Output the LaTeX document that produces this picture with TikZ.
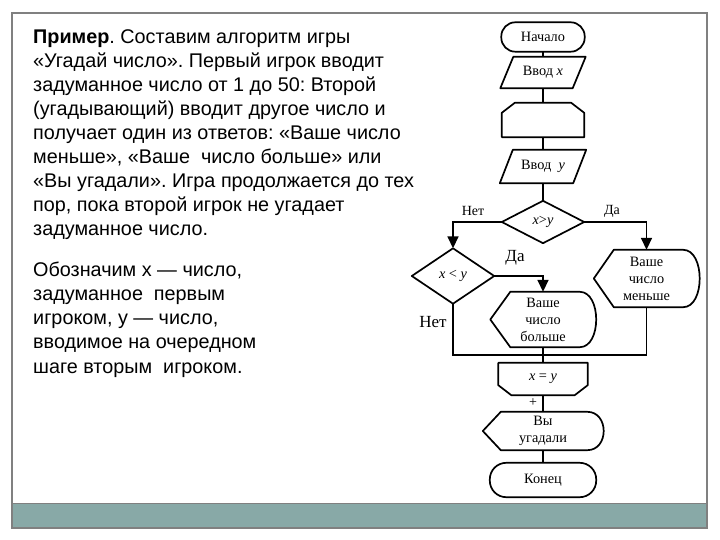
\documentclass[tikz,border=0pt]{standalone}
\usepackage{fontspec}
\setmainfont{Liberation Serif}
\newfontfamily\arialf{Liberation Sans}
\usetikzlibrary{arrows.meta}
\definecolor{band}{HTML}{88A9A7}
\definecolor{framec}{HTML}{808080}
\frenchspacing
\begin{document}
\begin{tikzpicture}[x=1pt,y=-1pt,
  blk/.style={inner sep=0pt, align=center, font=\fontsize{14.3}{17}\selectfont},
  ol/.style={line width=1.7pt, line join=round},
  cn/.style={line width=1.7pt},
  arr/.style={cn, -{Triangle[length=12pt,width=11pt]}},
  lbl/.style={inner sep=0pt, font=\fontsize{14}{16}\selectfont},
  lblbig/.style={inner sep=0pt, font=\fontsize{17}{19}\selectfont},
  txt/.style={inner sep=0pt, anchor=base west, font=\arialf\fontsize{19.8}{22}\selectfont}]
\useasboundingbox (0,0) rectangle (720,540);
% frame and band
\fill[band] (12,503) rectangle (707,528);
\draw[framec, line width=1.2pt] (12,13) rectangle (707,528);
\draw[framec, line width=1pt] (12,503) -- (707,503);
% left text
\foreach \t [count=\i] in {{\textbf{Пример}. Составим алгоритм игры},
  {«Угадай число». Первый игрок вводит},
  {задуманное число от 1 до 50: Второй},
  {(угадывающий) вводит другое число и},
  {получает один из ответов: «Ваше число},
  {меньше», «Ваше \ число больше» или},
  {«Вы угадали». Игра продолжается до тех},
  {пор, пока второй игрок не угадает},
  {задуманное число.}}
  \node[txt] (pa\i) at (33,{44+23.9*(\i-1)}) {\t};
\foreach \t [count=\i] in {{Обозначим x — число,},
  {задуманное \ первым},
  {игроком, y — число,},
  {вводимое на очередном},
  {шаге вторым \ игроком.}}
  \node[txt] (pb\i) at (33,{276+24.25*(\i-1)}) {\t};
% flowchart nodes
\node[blk, minimum width=83pt, minimum height=29pt] (start) at (543,37) {Начало};
\draw[ol, rounded corners=14pt] (start.north west) rectangle (start.south east);
\node[blk, minimum width=85pt, minimum height=31pt] (inx) at (543,72.5) {Ввод \textit{x}};
\draw[ol] (inx.south west) -- ([xshift=13pt]inx.north west) -- (inx.north east) -- ([xshift=-13pt]inx.south east) -- cycle;
\node[blk, minimum width=82pt, minimum height=34pt] (loop) at (543,120) {};
\draw[ol] ([yshift=-10pt]loop.north west) -- ([xshift=13pt]loop.north west) -- ([xshift=-13pt]loop.north east) -- ([yshift=-10pt]loop.north east) -- (loop.south east) -- (loop.south west) -- cycle;
\node[blk, minimum width=86pt, minimum height=33pt] (iny) at (543,166.5) {Ввод \ \textit{y}};
\draw[ol] (iny.south west) -- ([xshift=13pt]iny.north west) -- (iny.north east) -- ([xshift=-13pt]iny.south east) -- cycle;
\node[blk, minimum width=82pt, minimum height=42pt] (d1) at (543,222) {\textit{x}>\textit{y}};
\draw[ol] (d1.west) -- (d1.north) -- (d1.east) -- (d1.south) -- cycle;
\node[blk, minimum width=82pt, minimum height=55pt] (d2) at (453,276) {\textit{x} < \textit{y}};
\draw[ol] (d2.west) -- (d2.north) -- (d2.east) -- (d2.south) -- cycle;
\node[blk, minimum width=105pt, minimum height=55pt] (more) at (543,319.5) {Ваше\\число\\больше};
\draw[ol] (more.west) -- ([xshift=20pt]more.north west) -- ([xshift=-16pt]more.north east) .. controls ([xshift=6pt]more.north east) and ([xshift=6pt]more.south east) .. ([xshift=-16pt]more.south east) -- ([xshift=20pt]more.south west) -- cycle;
\node[blk, minimum width=105pt, minimum height=57pt] (less) at (646.5,278.5) {Ваше\\число\\меньше};
\draw[ol] (less.west) -- ([xshift=20pt]less.north west) -- ([xshift=-16pt]less.north east) .. controls ([xshift=6pt]less.north east) and ([xshift=6pt]less.south east) .. ([xshift=-16pt]less.south east) -- ([xshift=20pt]less.south west) -- cycle;
\node[blk, minimum width=89pt, minimum height=32pt] (lend) at (543,379) {\textit{x} = \textit{y}};
\draw[ol] (lend.north west) -- (lend.north east) -- ([yshift=10pt]lend.south east) -- ([xshift=-13pt]lend.south east) -- ([xshift=13pt]lend.south west) -- ([yshift=10pt]lend.south west) -- cycle;
\node[blk, minimum width=120pt, minimum height=38pt] (win) at (543,431) {Вы\\угадали};
\draw[ol] (win.west) -- ([xshift=18pt]win.north west) -- ([xshift=-16pt]win.north east) .. controls ([xshift=6pt]win.north east) and ([xshift=6pt]win.south east) .. ([xshift=-16pt]win.south east) -- ([xshift=18pt]win.south west) -- cycle;
\node[blk, minimum width=106pt, minimum height=34pt] (end) at (543,480) {Конец};
\draw[ol, rounded corners=16.5pt] (end.north west) rectangle (end.south east);
% connectors
\draw[cn] (start.south) -- (inx.north);
\draw[cn] (inx.south) -- (loop.north);
\draw[cn] (loop.south) -- (iny.north);
\draw[cn] (iny.south) -- (d1.north);
\draw[arr] (d1.west) -| (d2.north);
\draw[arr] (d1.east) -| (less.north);
\draw[arr] (d2.east) -| (more.north);
\coordinate (m) at (543,355);
\draw[cn] (d2.south) |- (m);
\draw[cn] (less.south) |- (m);
\draw[cn] (more.south) -- (lend.north);
\draw[cn] (lend.south) -- (win.north);
\draw[cn] (win.south) -- (end.north);
% labels
\node[lbl] (net1) at (473,211) {Нет};
\node[lbl] (da1) at (612,211) {Да};
\node[lblbig] (da2) at (515,258) {Да};
\node[lblbig] (net2) at (433,322) {Нет};
\node[lbl] (plus) at (533,403) {+};
\end{tikzpicture}
\end{document}
